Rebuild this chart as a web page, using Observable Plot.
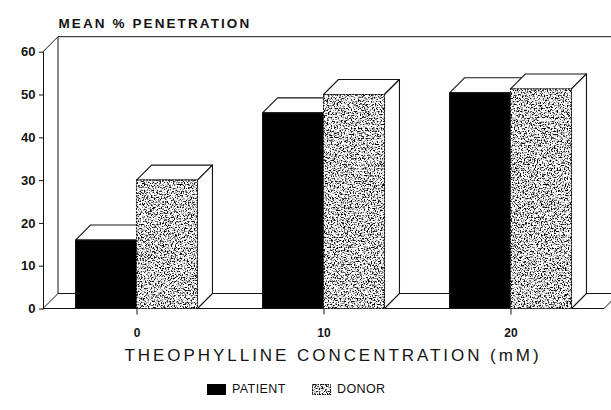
<!DOCTYPE html>
<html><head><meta charset="utf-8">
<script src="https://cdn.jsdelivr.net/npm/d3@7"></script>
<script src="https://cdn.jsdelivr.net/npm/@observablehq/plot@0.6"></script>
<style>
body{margin:0;background:#fff;font-family:"Liberation Sans",Arial,sans-serif;}
#chart svg{display:block;overflow:visible;}
#chart g[aria-label^="y-axis"] text{font-size:13px;font-weight:bold;}
#chart g[aria-label^="x-axis"] text{font-size:12px;font-weight:bold;}
.legend{position:relative;height:38px;font-size:12.5px;color:#111;}
.legend .item{position:absolute;top:10px;display:flex;align-items:center;gap:6px;letter-spacing:0.4px;}
.legend svg{display:block;}
</style></head><body>
<div id="chart"></div>
<div class="legend" id="legend"></div>
<script>
// ---- data ----
const categories = ["0", "10", "20"];
const seriesNames = ["PATIENT", "DONOR"];
const patient = [16, 45.7, 50.4];
const donor = [30, 50, 51.3];
const yTicks = [0, 10, 20, 30, 40, 50, 60];
const yTitle = "MEAN % PENETRATION";
const xTitle = "THEOPHYLLINE CONCENTRATION (mM)";

// ---- styling constants ----
const W = 0.326;   // bar width, in category units
const D = 15;      // 3D depth, px
const INK = "#141414";

const rows = categories.flatMap((c, i) => [
  {cat: c, i, series: seriesNames[0], value: patient[i], x1: i - W, x2: i},
  {cat: c, i, series: seriesNames[1], value: donor[i], x1: i, x2: i + W}
]);

function defsMark() {
  return () => {
    const svg = d3.create("svg:g");
    const f = svg.append("defs").append("filter").attr("id", "stip")
      .attr("x", 0).attr("y", 0).attr("width", 1).attr("height", 1)
      .attr("color-interpolation-filters", "sRGB");
    f.append("feTurbulence").attr("type", "fractalNoise").attr("baseFrequency", 0.7)
      .attr("numOctaves", 3).attr("seed", 7).attr("result", "n");
    f.append("feColorMatrix").attr("in", "n").attr("type", "matrix")
      .attr("values", "0 0 0 0 0  0 0 0 0 0  0 0 0 0 0  5 0 0 0 -2.4").attr("result", "a");
    f.append("feComposite").attr("in", "a").attr("in2", "SourceAlpha").attr("operator", "in");
    return svg.node();
  };
}

function wallMark() {
  return (index, scales) => {
    const {x, y} = scales;
    const g = d3.create("svg:g").attr("fill", "none").attr("stroke", INK).attr("stroke-width", 1);
    const xl = x(-0.5), xr = x(2.5), y0 = y(0), yt = y(60);
    g.append("path").attr("d", `M${xl},${yt}L${xl + D},${yt - D}L${xr + D},${yt - D}`);
    g.append("path").attr("d", `M${xl + D},${yt - D}L${xl + D},${y0 - D}L${xr + D},${y0 - D}`);
    g.append("path").attr("d", `M${xl},${y0}L${xl + D},${y0 - D}M${xr},${y0}L${xr + D},${y0 - D}`);
    g.append("path").attr("d", `M${xl},${y0}L${xr},${y0}`);
    return g.node();
  };
}

function boxesMark(data) {
  return (index, scales) => {
    const {x, y} = scales;
    const g = d3.create("svg:g").attr("stroke", INK).attr("stroke-width", 1.1).attr("stroke-linejoin", "round");
    for (const r of data) {
      const X1 = x(r.x1), X2 = x(r.x2), Y0 = y(0), Y1 = y(r.value);
      g.append("path").attr("fill", "white")
        .attr("d", `M${X1},${Y1}L${X1 + D},${Y1 - D}L${X2 + D},${Y1 - D}L${X2},${Y1}Z`);
      g.append("path").attr("fill", "white")
        .attr("d", `M${X2},${Y1}L${X2 + D},${Y1 - D}L${X2 + D},${Y0 - D}L${X2},${Y0}Z`);
      if (r.series === seriesNames[0]) {
        g.append("rect").attr("x", X1).attr("y", Y1).attr("width", X2 - X1).attr("height", Y0 - Y1)
          .attr("fill", "#000");
      } else {
        g.append("rect").attr("x", X1).attr("y", Y1).attr("width", X2 - X1).attr("height", Y0 - Y1)
          .attr("fill", "#fff").attr("stroke", "none");
        g.append("rect").attr("x", X1).attr("y", Y1).attr("width", X2 - X1).attr("height", Y0 - Y1)
          .attr("fill", "#000").attr("stroke", "none").attr("filter", "url(#stip)");
        g.append("rect").attr("x", X1).attr("y", Y1).attr("width", X2 - X1).attr("height", Y0 - Y1)
          .attr("fill", "none").attr("stroke-dasharray", "2 1.2");
      }
    }
    return g.node();
  };
}

const chart = Plot.plot({
  width: 611,
  height: 372,
  marginLeft: 43,
  marginRight: 7,
  marginTop: 51.7,
  marginBottom: 63.5,
  style: {fontFamily: "'Liberation Sans', Arial, sans-serif", color: INK, background: "white"},
  x: {domain: [-0.5, 2.5], ticks: [0, 1, 2], tickFormat: i => categories[i], tickSize: 6, tickPadding: 13, label: null},
  y: {domain: [0, 60], ticks: yTicks, tickSize: 4, tickPadding: 4, label: null, line: true},
  marks: [
    defsMark(),
    wallMark(),
    boxesMark(rows),
    Plot.text([yTitle], {frameAnchor: "top-left", textAnchor: "start", lineAnchor: "bottom", dx: 15, dy: -24.7, fontSize: 13.5, fontWeight: "bold", fill: INK}),
    Plot.text([xTitle], {frameAnchor: "bottom", lineAnchor: "bottom", dx: 9, dy: 51.5, fontSize: 17, fill: INK})
  ]
});
document.getElementById("chart").appendChild(chart);

// letter spacing for the wide lettering of the original
d3.select(chart).selectAll("text").each(function () {
  const t = this.textContent;
  if (t === yTitle) d3.select(this).style("letter-spacing", "2.1px");
  if (t === xTitle) d3.select(this).style("letter-spacing", "2.95px");
});

// ---- legend ----
const legend = d3.select("#legend");
const lx = [207, 312];
seriesNames.forEach((s, k) => {
  const it = legend.append("div").attr("class", "item").style("left", lx[k] + "px");
  const sw = it.append("svg").attr("width", 19).attr("height", 11);
  if (k === 0) sw.append("rect").attr("width", 19).attr("height", 11).attr("fill", "#000");
  else {
    sw.append("rect").attr("width", 19).attr("height", 11).attr("fill", "#fff");
    sw.append("rect").attr("width", 19).attr("height", 11).attr("fill", "#000").attr("filter", "url(#stip)");
    sw.append("rect").attr("x", 0.5).attr("y", 0.5).attr("width", 18).attr("height", 10).attr("fill", "none").attr("stroke", INK).attr("stroke-dasharray", "1.5 1");
  }
  it.append("span").text(s);
});
</script>
</body></html>
